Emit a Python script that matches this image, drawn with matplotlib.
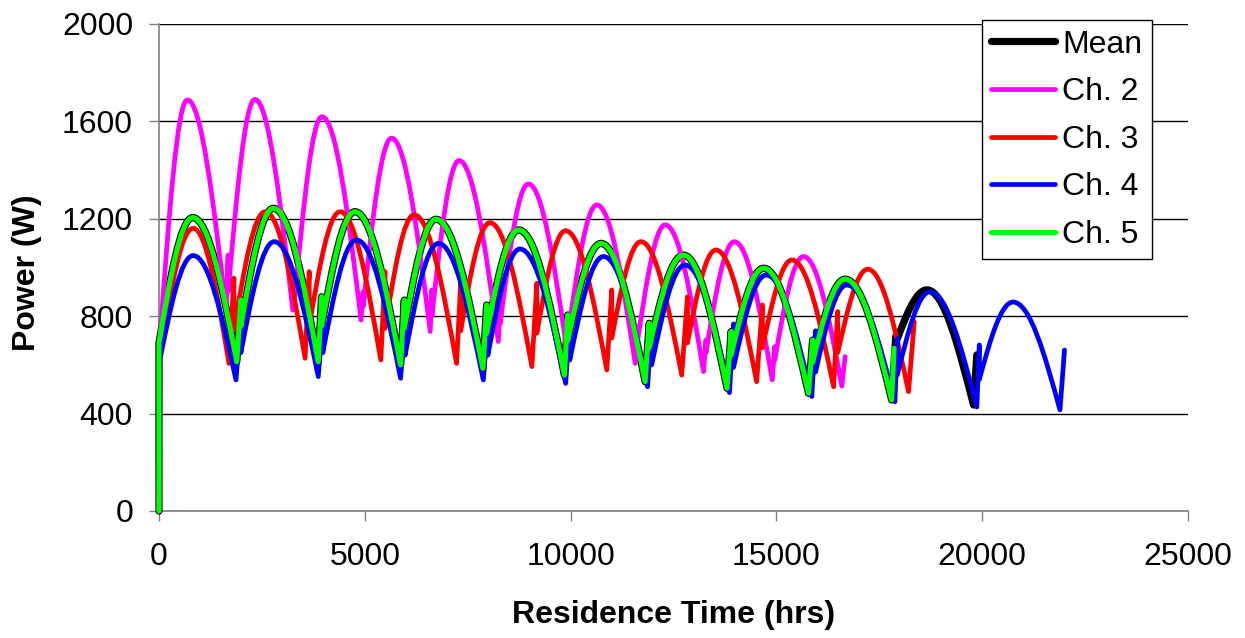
""" Channel power vs residence time chart

"""

# --------------------------------------------------
#   Imports
# --------------------------------------------------

import matplotlib
matplotlib.use("Agg")
import matplotlib.pyplot as plt
from matplotlib.path import Path
from matplotlib.patches import PathPatch
from matplotlib.lines import Line2D


# --------------------------------------------------
#   Data
# --------------------------------------------------

# Mean
mean_lead_x = [0, 0]
mean_lead_y = [0, 690]
mean_peak_x = [820, 2780, 4760, 6730, 8740, 10740, 12740, 14690, 16670, 18660]
mean_peak_y = [1205, 1243, 1229, 1198, 1154, 1099, 1051, 997, 952, 908]
mean_trough_x = [1890, 3870, 5870, 7870, 9850, 11810, 13800, 15780, 17800, 19790]
mean_trough_y = [613, 613, 600, 586, 558, 531, 504, 483, 456, 435]
mean_spike_x = [1990, 3950, 5960, 7960, 9930, 11910, 13900, 15880, 17900, 19870]
mean_spike_y = [866, 880, 866, 846, 805, 771, 737, 702, 716, 641]
mean_resume_y = [760, 760, 750, 730, 700, 670, 640, 610, 690]

# Ch. 2
ch2_lead_x = [0, 20]
ch2_lead_y = [0, 700]
ch2_peak_x = [690, 2330, 3960, 5650, 7290, 8975, 10640, 12300, 13980, 15660]
ch2_peak_y = [1688, 1690, 1619, 1531, 1439, 1343, 1257, 1175, 1106, 1045]
ch2_trough_x = [1630, 3250, 4910, 6590, 8245, 9900, 11570, 13230, 14900, 16590]
ch2_trough_y = [825, 825, 784, 737, 696, 675, 606, 572, 538, 513]
ch2_spike_x = [1680, 3300, 4960, 6630, 8290, 9950, 11620, 13290, 14960, 16670]
ch2_spike_y = [1051, 940, 900, 908, 840, 800, 757, 702, 675, 634]
ch2_resume_y = [900, 880, 840, 800, 770, 740, 690, 650, 620]

# Ch. 3
ch3_lead_x = [0, 30]
ch3_lead_y = [0, 650]
ch3_peak_x = [830, 2580, 4400, 6200, 8040, 9880, 11710, 13530, 15380, 17220]
ch3_peak_y = [1161, 1229, 1229, 1216, 1184, 1151, 1106, 1072, 1031, 993]
ch3_trough_x = [1700, 3550, 5390, 7230, 9060, 10880, 12700, 14520, 16390, 18210]
ch3_trough_y = [606, 627, 620, 606, 593, 579, 558, 531, 510, 490]
ch3_spike_x = [1820, 3650, 5490, 7330, 9180, 11000, 12840, 14660, 16490, 18350]
ch3_spike_y = [956, 983, 983, 935, 935, 908, 880, 846, 819, 777]
ch3_resume_y = [743, 760, 750, 740, 730, 710, 690, 670, 650]

# Ch. 4
ch4_lead_x = [0, 20]
ch4_lead_y = [0, 620]
ch4_peak_x = [830, 2800, 4800, 6790, 8770, 10800, 12780, 14750, 16710, 18730, 20750]
ch4_peak_y = [1049, 1106, 1113, 1099, 1076, 1045, 1010, 969, 928, 900, 858]
ch4_trough_x = [1870, 3870, 5870, 7880, 9880, 11870, 13860, 15860, 17880, 19870, 21890]
ch4_trough_y = [538, 552, 545, 538, 524, 510, 486, 470, 449, 427, 415]
ch4_spike_x = [1990, 3980, 5980, 7990, 9980, 11970, 13960, 15950, 17940, 19930, 22000]
ch4_spike_y = [790, 800, 790, 780, 770, 760, 768, 740, 709, 682, 661]
ch4_resume_y = [650, 650, 640, 640, 620, 600, 590, 570, 560, 540]

# Ch. 5
ch5_lead_x = [0, 0]
ch5_lead_y = [0, 690]
ch5_peak_x = [820, 2780, 4760, 6730, 8740, 10740, 12740, 14690, 16670]
ch5_peak_y = [1205, 1243, 1229, 1198, 1154, 1099, 1051, 997, 952]
ch5_trough_x = [1890, 3870, 5870, 7870, 9850, 11810, 13800, 15780, 17800]
ch5_trough_y = [613, 613, 600, 586, 558, 531, 504, 483, 456]
ch5_spike_x = [1990, 3950, 5960, 7960, 9930, 11910, 13900, 15880, 17860]
ch5_spike_y = [866, 880, 866, 846, 805, 771, 737, 702, 668]
ch5_resume_y = [760, 760, 750, 730, 700, 670, 640, 610]

labels = ["Mean", "Ch. 2", "Ch. 3", "Ch. 4", "Ch. 5"]
x_ticks = [0, 5000, 10000, 15000, 20000, 25000]
y_ticks = [0, 400, 800, 1200, 1600, 2000]


# --------------------------------------------------
#   Functions
# --------------------------------------------------

def arch_path(lead_x, lead_y, peak_x, peak_y, trough_x, trough_y,
              spike_x, spike_y, resume_y):
    # lead-in segment, then dome up to each peak, down to the trough,
    # a recovery spike, and back to where the next dome starts
    verts = [(lead_x[0], lead_y[0])]
    codes = [Path.MOVETO]
    for x, y in zip(lead_x[1:], lead_y[1:]):
        verts.append((x, y))
        codes.append(Path.LINETO)
    x0, y0 = verts[-1]
    for i in range(len(peak_x)):
        xp, yp = peak_x[i], peak_y[i]
        xt, yt = trough_x[i], trough_y[i]
        verts += [(x0 + 0.33 * (xp - x0), y0 + 0.52 * (yp - y0)),
                  (xp - 0.36 * (xp - x0), yp),
                  (xp, yp)]
        codes += [Path.CURVE4] * 3
        verts += [(xp + 0.36 * (xt - xp), yp),
                  (xt - 0.33 * (xt - xp), yt + 0.52 * (yp - yt)),
                  (xt, yt)]
        codes += [Path.CURVE4] * 3
        verts.append((spike_x[i], spike_y[i]))
        codes.append(Path.LINETO)
        if i < len(resume_y):
            verts.append((spike_x[i], resume_y[i]))
            codes.append(Path.LINETO)
            x0, y0 = verts[-1]
    return Path(verts, codes)


# --------------------------------------------------
#   Plot
# --------------------------------------------------

plt.rcParams["font.family"] = ["Liberation Sans", "DejaVu Sans"]

fig = plt.figure(figsize=(12.45, 6.38), dpi=100)
ax = fig.add_axes([0.1277, 0.1991, 0.8265, 0.7633])

series = [
    (mean_lead_x, mean_lead_y, mean_peak_x, mean_peak_y, mean_trough_x, mean_trough_y,
     mean_spike_x, mean_spike_y, mean_resume_y),
    (ch2_lead_x, ch2_lead_y, ch2_peak_x, ch2_peak_y, ch2_trough_x, ch2_trough_y,
     ch2_spike_x, ch2_spike_y, ch2_resume_y),
    (ch3_lead_x, ch3_lead_y, ch3_peak_x, ch3_peak_y, ch3_trough_x, ch3_trough_y,
     ch3_spike_x, ch3_spike_y, ch3_resume_y),
    (ch4_lead_x, ch4_lead_y, ch4_peak_x, ch4_peak_y, ch4_trough_x, ch4_trough_y,
     ch4_spike_x, ch4_spike_y, ch4_resume_y),
    (ch5_lead_x, ch5_lead_y, ch5_peak_x, ch5_peak_y, ch5_trough_x, ch5_trough_y,
     ch5_spike_x, ch5_spike_y, ch5_resume_y),
]
colors = ["#000000", "#FF00FF", "#FF0000", "#0000FF", "#00FF00"]
widths = [5.2, 3.4, 3.4, 3.4, 3.7]

handles = []
for k, data in enumerate(series):
    patch = PathPatch(arch_path(*data), fill=False, edgecolor=colors[k],
                      linewidth=widths[k], capstyle="round", joinstyle="round",
                      zorder=3 + k, clip_on=False)
    ax.add_patch(patch)
    handles.append(Line2D([], [], color=colors[k], linewidth=widths[k],
                          solid_capstyle="round", label=labels[k]))

ax.set_xlim(0, 25000)
ax.set_ylim(0, 2000)
ax.set_xticks(x_ticks)
ax.set_yticks(y_ticks)
ax.tick_params(axis="both", labelsize=23, length=7.2, width=1.0, color="#808080",
               direction="out")
ax.tick_params(axis="x", pad=15)
ax.tick_params(axis="y", pad=11.5)

ax.set_axisbelow(True)
ax.yaxis.grid(True, color="black", linewidth=1.0)
for side in ("top", "right"):
    ax.spines[side].set_visible(False)
for side in ("left", "bottom"):
    ax.spines[side].set_color("#808080")
    ax.spines[side].set_linewidth(1.2)

ax.set_xlabel("Residence Time (hrs)", fontsize=23, fontweight="bold")
ax.set_ylabel("Power (W)", fontsize=23, fontweight="bold")
ax.xaxis.set_label_coords(0.5, -0.2136)
ax.xaxis.label.set_va("center")
ax.yaxis.set_label_coords(-0.128, 0.49)
ax.yaxis.label.set_va("center")

leg = ax.legend(handles=handles, loc="upper right", fontsize=23,
                bbox_to_anchor=(1152 / 1245, 1 - 20 / 638),
                bbox_transform=fig.transFigure, borderaxespad=0,
                fancybox=False, framealpha=1, edgecolor="black",
                handlelength=2.0, handletextpad=0.22, labelspacing=0.55,
                borderpad=0.3)
leg.get_frame().set_linewidth(1.0)

fig.savefig("out.png", dpi=100)
